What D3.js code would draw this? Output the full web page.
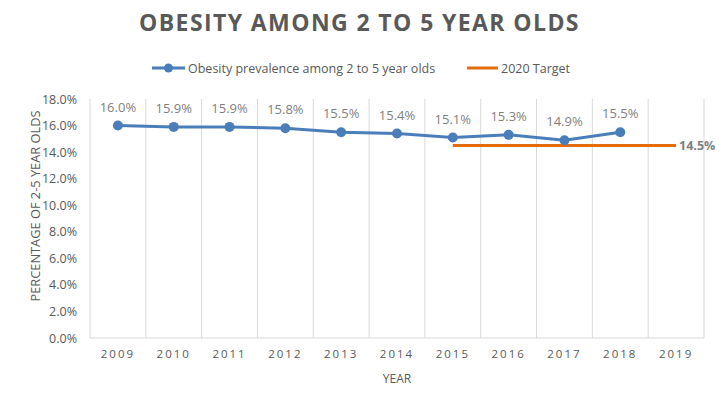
<!DOCTYPE html>
<html>
<head>
<meta charset="utf-8">
<script src="https://cdn.jsdelivr.net/npm/d3@7"></script>
<style>
  html, body { margin: 0; padding: 0; background: #fff; }
  svg { display: block; }
</style>
</head>
<body>
<script>
const years = ["2009", "2010", "2011", "2012", "2013", "2014", "2015", "2016", "2017", "2018", "2019"];
const prevalence = [16.0, 15.9, 15.9, 15.8, 15.5, 15.4, 15.1, 15.3, 14.9, 15.5];
const targetYears = ["2015", "2016", "2017", "2018", "2019"];
const targetValue = 14.5;
const yTicks = [0, 2, 4, 6, 8, 10, 12, 14, 16, 18];

const width = 719, height = 402;
const margin = { top: 99, right: 15, bottom: 64, left: 90 };
const innerWidth = width - margin.left - margin.right;
const innerHeight = height - margin.top - margin.bottom;
const font = "'Open Sans', 'Noto Sans', sans-serif";
const textColor = "#595959";
const blue = "#4a7ebb";
const orange = "#e46c0a";

const svg = d3.select("body").append("svg")
    .attr("width", width)
    .attr("height", height);

// title
svg.append("text")
   .attr("x", width / 2)
   .attr("y", 31)
   .attr("text-anchor", "middle")
   .attr("font-family", font)
   .attr("font-weight", "bold")
   .attr("font-size", 23)
   .attr("letter-spacing", 1.4)
   .attr("fill", textColor)
   .text("OBESITY AMONG 2 TO 5 YEAR OLDS");

// legend
const legend = svg.append("g").attr("font-family", font).attr("font-size", 12.5).attr("fill", textColor);
legend.append("line").attr("x1", 152).attr("x2", 185).attr("y1", 68).attr("y2", 68)
      .attr("stroke", blue).attr("stroke-width", 3);
legend.append("circle").attr("cx", 168.5).attr("cy", 68).attr("r", 4.5).attr("fill", blue);
legend.append("text").attr("x", 188).attr("y", 72.5).text("Obesity prevalence among 2 to 5 year olds");
legend.append("line").attr("x1", 467).attr("x2", 498).attr("y1", 68).attr("y2", 68)
      .attr("stroke", orange).attr("stroke-width", 3);
legend.append("text").attr("x", 501).attr("y", 72.5).text("2020 Target");

const g = svg.append("g").attr("transform", `translate(${margin.left},${margin.top})`);

const xScale = d3.scaleBand()
    .domain(years)
    .range([0, innerWidth]);

const yScale = d3.scaleLinear()
    .domain([0, 18])
    .range([innerHeight, 0]);

const cx = d => xScale(d) + xScale.bandwidth() / 2;

// vertical gridlines at category boundaries
const bounds = years.map(d => xScale(d)).concat([innerWidth]);
g.selectAll(".grid")
 .data(bounds)
 .enter().append("line")
   .attr("x1", d => d).attr("x2", d => d)
   .attr("y1", 0).attr("y2", innerHeight)
   .attr("stroke", "#d9d9d9").attr("stroke-width", 1);

// bottom axis line
g.append("line")
 .attr("x1", 0).attr("x2", innerWidth)
 .attr("y1", innerHeight).attr("y2", innerHeight)
 .attr("stroke", "#d9d9d9");

// y axis
const yAxis = g.append("g")
   .call(d3.axisLeft(yScale).tickValues(yTicks).tickFormat(d => d.toFixed(1) + "%").tickSize(0).tickPadding(13));
yAxis.select(".domain").remove();
yAxis.selectAll("text").attr("font-family", font).attr("font-size", 12.5).attr("fill", textColor);

// x axis
const xAxis = g.append("g")
   .attr("transform", `translate(0,${innerHeight})`)
   .call(d3.axisBottom(xScale).tickSize(0).tickPadding(12));
xAxis.select(".domain").remove();
xAxis.selectAll("text").attr("font-family", font).attr("font-size", 11.5)
     .attr("letter-spacing", 2).attr("fill", textColor);

// axis titles
svg.append("text")
   .attr("x", margin.left + innerWidth / 2)
   .attr("y", 383)
   .attr("text-anchor", "middle")
   .attr("font-family", font).attr("font-size", 12).attr("fill", textColor)
   .text("YEAR");

svg.append("text")
   .attr("transform", `translate(40,206) rotate(-90)`)
   .attr("text-anchor", "middle")
   .attr("font-family", font).attr("font-size", 12.8).attr("fill", textColor)
   .text("PERCENTAGE OF 2-5 YEAR OLDS");

// target line
g.append("line")
 .attr("x1", cx(targetYears[0])).attr("x2", cx(targetYears[targetYears.length - 1]))
 .attr("y1", yScale(targetValue)).attr("y2", yScale(targetValue))
 .attr("stroke", orange).attr("stroke-width", 3);
g.append("text")
 .attr("x", cx(targetYears[targetYears.length - 1]) + 3)
 .attr("y", yScale(targetValue) + 5)
 .attr("font-family", font).attr("font-size", 12.5).attr("font-weight", "bold").attr("fill", "#7f7f7f")
 .text(targetValue.toFixed(1) + "%");

// prevalence line
const series = prevalence.map((v, i) => ({ year: years[i], value: v }));
const line = d3.line().x(d => cx(d.year)).y(d => yScale(d.value));
g.append("path")
 .datum(series)
 .attr("d", line)
 .attr("fill", "none")
 .attr("stroke", blue).attr("stroke-width", 3);

g.selectAll(".pt")
 .data(series)
 .enter().append("circle")
   .attr("cx", d => cx(d.year))
   .attr("cy", d => yScale(d.value))
   .attr("r", 5)
   .attr("fill", blue);

g.selectAll(".lbl")
 .data(series)
 .enter().append("text")
   .attr("x", d => cx(d.year))
   .attr("y", d => yScale(d.value) - 14)
   .attr("text-anchor", "middle")
   .attr("font-family", font).attr("font-size", 13).attr("fill", "#7f7f7f")
   .text(d => d.value.toFixed(1) + "%");
</script>
</body>
</html>
